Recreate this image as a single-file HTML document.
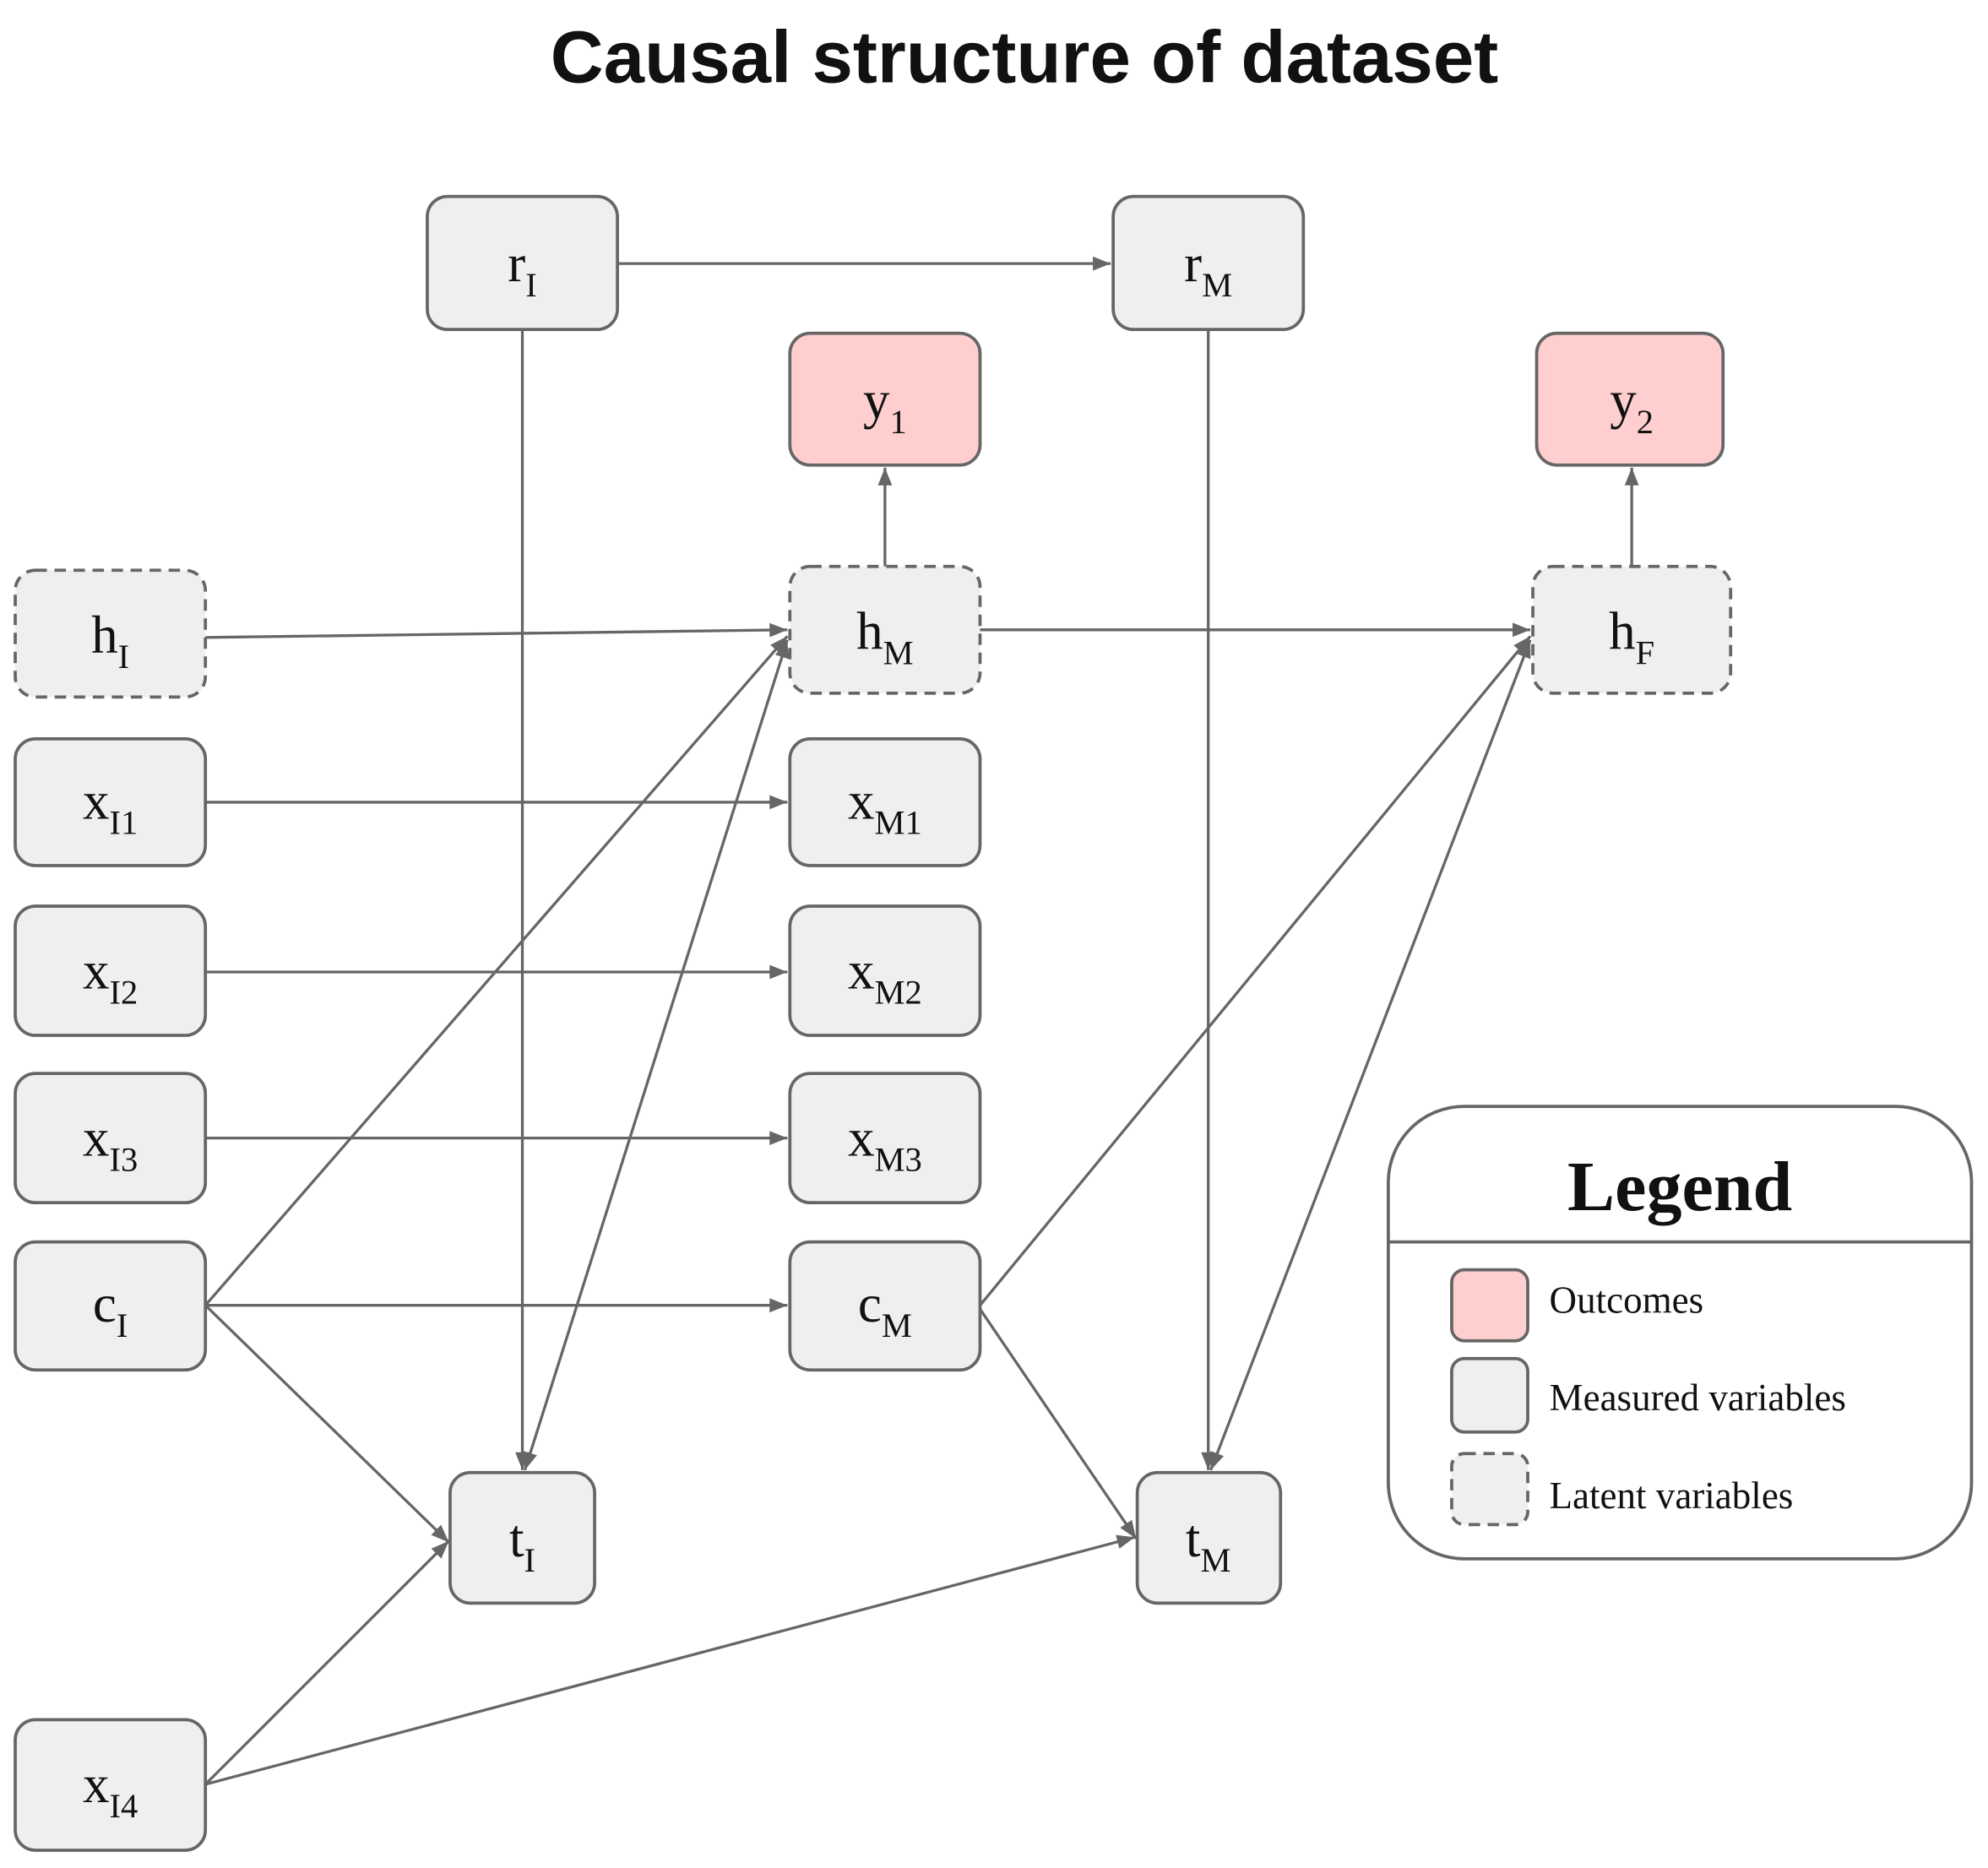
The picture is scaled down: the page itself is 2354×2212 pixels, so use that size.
<!DOCTYPE html>
<html><head><meta charset="utf-8"><style>
html,body{margin:0;padding:0;background:#fff}
svg{display:block}
.n{fill:#efefef;stroke:#666;stroke-width:2.5}
.d{fill:#efefef;stroke:#666;stroke-width:2.5;stroke-dasharray:9 6}
.p{fill:#ffcfcf;stroke:#666;stroke-width:2.5}
.e{stroke:#666;stroke-width:2.2;fill:none}
.l{font-family:"Liberation Serif",serif;font-size:42px;fill:#111;text-anchor:middle}
.s{font-size:27px}
.lg{font-family:"Liberation Serif",serif;fill:#111}
</style></head><body>
<svg width="2354" height="2212" viewBox="0 0 1568 1474" preserveAspectRatio="none" xmlns="http://www.w3.org/2000/svg">
<defs><marker id="a" viewBox="0 0 10 10" refX="10" refY="5" markerWidth="9" markerHeight="9" markerUnits="userSpaceOnUse" orient="auto-start-reverse"><path d="M0,1 L10,5 L0,9 z" fill="#666"/></marker>
<marker id="b" viewBox="0 0 10 10" refX="10" refY="5" markerWidth="16" markerHeight="14" markerUnits="userSpaceOnUse" orient="auto-start-reverse"><path d="M0,1 L10,5 L0,9 z" fill="#666"/></marker></defs>
<text x="808" y="65" text-anchor="middle" font-family="Liberation Sans,sans-serif" font-weight="bold" font-size="58" fill="#111">Causal structure of dataset</text>
<g class="e">
<line x1="412" y1="260" x2="412" y2="1160" marker-end="url(#b)"/>
<line x1="487" y1="208" x2="876" y2="208" marker-end="url(#b)"/>
<line x1="953" y1="260" x2="953" y2="1160" marker-end="url(#b)"/>
<line x1="698" y1="447" x2="698" y2="369" marker-end="url(#b)"/>
<line x1="1287" y1="447" x2="1287" y2="369" marker-end="url(#b)"/>
<line x1="162" y1="503" x2="621" y2="497" marker-end="url(#b)"/>
<line x1="773" y1="497" x2="1207" y2="497" marker-end="url(#b)"/>
<line x1="162" y1="1030" x2="621" y2="502" marker-end="url(#b)"/>
<line x1="414" y1="1160" x2="621" y2="505" marker-end="url(#b)" marker-start="url(#b)"/>
<line x1="162" y1="633" x2="621" y2="633" marker-end="url(#b)"/>
<line x1="162" y1="767" x2="621" y2="767" marker-end="url(#b)"/>
<line x1="162" y1="898" x2="621" y2="898" marker-end="url(#b)"/>
<line x1="162" y1="1030" x2="621" y2="1030" marker-end="url(#b)"/>
<line x1="162" y1="1030" x2="354" y2="1217" marker-end="url(#b)"/>
<line x1="773" y1="1030" x2="1207" y2="502" marker-end="url(#b)"/>
<line x1="773" y1="1033" x2="896" y2="1214" marker-end="url(#b)"/>
<line x1="955" y1="1160" x2="1207" y2="505" marker-end="url(#b)" marker-start="url(#b)"/>
<line x1="162" y1="1408" x2="354" y2="1216" marker-end="url(#b)"/>
<line x1="162" y1="1408" x2="895" y2="1213" marker-end="url(#b)"/>
</g>
<rect class="n" x="337" y="155" width="150" height="105" rx="16"/>
<rect class="n" x="878" y="155" width="150" height="105" rx="16"/>
<rect class="p" x="623" y="263" width="150" height="104" rx="16"/>
<rect class="p" x="1212" y="263" width="147" height="104" rx="16"/>
<rect class="d" x="12" y="450" width="150" height="100" rx="16"/>
<rect class="d" x="623" y="447" width="150" height="100" rx="16"/>
<rect class="d" x="1209" y="447" width="156" height="100" rx="16"/>
<rect class="n" x="12" y="583" width="150" height="100" rx="16"/>
<rect class="n" x="623" y="583" width="150" height="100" rx="16"/>
<rect class="n" x="12" y="715" width="150" height="102" rx="16"/>
<rect class="n" x="623" y="715" width="150" height="102" rx="16"/>
<rect class="n" x="12" y="847" width="150" height="102" rx="16"/>
<rect class="n" x="623" y="847" width="150" height="102" rx="16"/>
<rect class="n" x="12" y="980" width="150" height="101" rx="16"/>
<rect class="n" x="623" y="980" width="150" height="101" rx="16"/>
<rect class="n" x="355" y="1162" width="114" height="103" rx="16"/>
<rect class="n" x="897" y="1162" width="113" height="103" rx="16"/>
<rect class="n" x="12" y="1357" width="150" height="103" rx="16"/>
<g class="l">
<text x="412" y="222">r<tspan class="s" dy="12">I</tspan></text>
<text x="953" y="222">r<tspan class="s" dy="12">M</tspan></text>
<text x="698" y="330">y<tspan class="s" dy="12">1</tspan></text>
<text x="1287" y="330">y<tspan class="s" dy="12">2</tspan></text>
<text x="87" y="515">h<tspan class="s" dy="12">I</tspan></text>
<text x="698" y="512">h<tspan class="s" dy="12">M</tspan></text>
<text x="1287" y="512">h<tspan class="s" dy="12">F</tspan></text>
<text x="87" y="646">x<tspan class="s" dy="12">I1</tspan></text>
<text x="698" y="646">x<tspan class="s" dy="12">M1</tspan></text>
<text x="87" y="780">x<tspan class="s" dy="12">I2</tspan></text>
<text x="698" y="780">x<tspan class="s" dy="12">M2</tspan></text>
<text x="87" y="912">x<tspan class="s" dy="12">I3</tspan></text>
<text x="698" y="912">x<tspan class="s" dy="12">M3</tspan></text>
<text x="87" y="1043">c<tspan class="s" dy="12">I</tspan></text>
<text x="698" y="1043">c<tspan class="s" dy="12">M</tspan></text>
<text x="412" y="1228">t<tspan class="s" dy="12">I</tspan></text>
<text x="953" y="1228">t<tspan class="s" dy="12">M</tspan></text>
<text x="87" y="1422">x<tspan class="s" dy="12">I4</tspan></text>
</g>
<rect x="1095" y="873" width="460" height="357" rx="60" fill="#fff" stroke="#666" stroke-width="2.5"/>
<line x1="1095" y1="980" x2="1555" y2="980" stroke="#666" stroke-width="2.5"/>
<text class="lg" x="1325" y="955" text-anchor="middle" font-weight="bold" font-size="56">Legend</text>
<rect class="p" x="1145" y="1002" width="60" height="56" rx="10"/>
<rect class="n" x="1145" y="1072" width="60" height="58" rx="10"/>
<rect class="d" x="1145" y="1147" width="60" height="56" rx="10"/>
<text class="lg" x="1222" y="1036" font-size="30">Outcomes</text>
<text class="lg" x="1222" y="1113" font-size="30">Measured variables</text>
<text class="lg" x="1222" y="1190" font-size="30">Latent variables</text>
</svg>
</body></html>
